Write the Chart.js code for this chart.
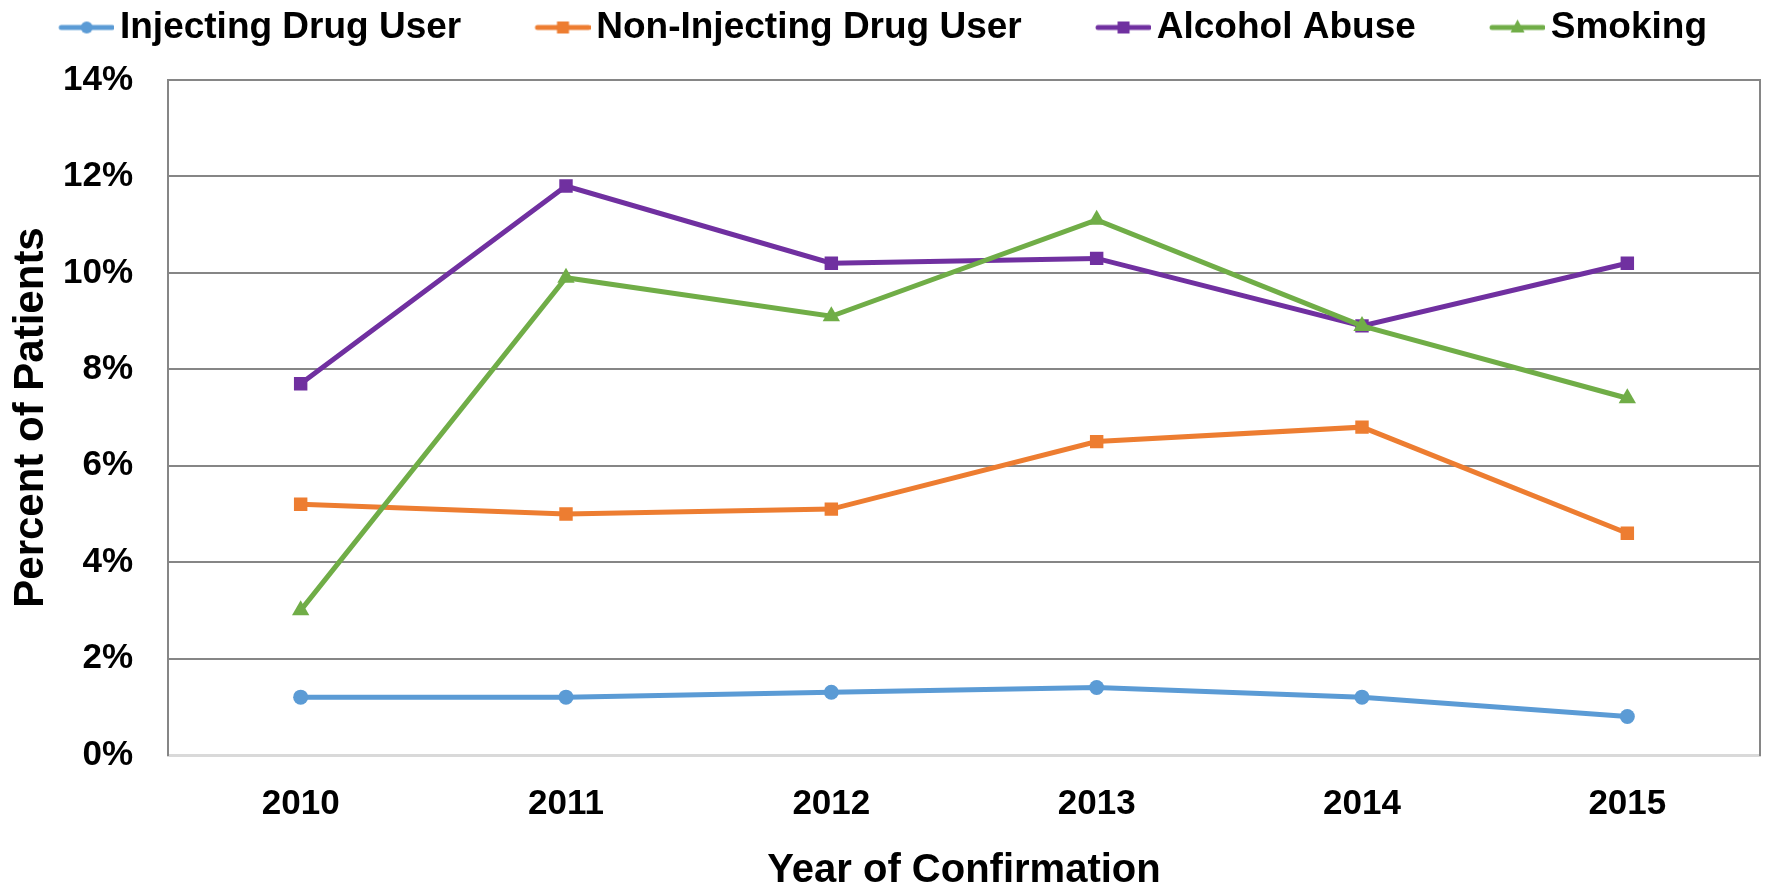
<!DOCTYPE html>
<html>
<head>
<meta charset="utf-8">
<script src="https://cdn.jsdelivr.net/npm/chart.js@4/dist/chart.umd.min.js"></script>
<style>
  html, body { margin: 0; padding: 0; background: #fff; }
  #wrap { width: 1770px; height: 884px; }
</style>
</head>
<body>
<div id="wrap"><canvas id="patientChart"></canvas></div>
<script>
// Values (percent of patients)
const years = ["2010", "2011", "2012", "2013", "2014", "2015"];
const injecting = [1.2, 1.2, 1.3, 1.4, 1.2, 0.8];
const nonInjecting = [5.2, 5.0, 5.1, 6.5, 6.8, 4.6];
const alcohol = [7.7, 11.8, 10.2, 10.3, 8.9, 10.2];
const smoking = [3.0, 9.9, 9.1, 11.1, 8.9, 7.4];

const seriesNames = ["Injecting Drug User", "Non-Injecting Drug User", "Alcohol Abuse", "Smoking"];
const seriesColors = ["#5B9BD5", "#ED7D31", "#7030A0", "#70AD47"];
const seriesStyles = ["circle", "rect", "rect", "triangle"];
const seriesRadius = [7.5, 9.5, 9.5, 10];

Chart.defaults.font.family = '"Liberation Sans", Arial, sans-serif';
Chart.defaults.font.weight = "bold";
Chart.defaults.color = "#000";

const LEGEND_PAD = 78;
const LEGEND_BOX = 38.5;
const SIDE = 25; // extra room on both sides so the legend stays on one row

// legend swatch: short line with the marker in the middle, right-aligned in the image
function legendSwatch(color, style) {
    const c = document.createElement("canvas");
    c.width = Math.round(LEGEND_BOX + 25);
    c.height = 20;
    const ctx = c.getContext("2d");
    const x0 = c.width - 55, x1 = c.width, cx = (x0 + x1) / 2, cy = 10;
    ctx.strokeStyle = color;
    ctx.lineWidth = 5;
    ctx.lineCap = "round";
    ctx.beginPath();
    ctx.moveTo(x0 + 2, cy);
    ctx.lineTo(x1 - 2, cy);
    ctx.stroke();
    ctx.fillStyle = color;
    ctx.beginPath();
    if (style === "circle") {
        ctx.arc(cx, cy, 6, 0, Math.PI * 2);
    } else if (style === "rect") {
        ctx.rect(cx - 6, cy - 6, 12, 12);
    } else {
        ctx.moveTo(cx, cy - 8);
        ctx.lineTo(cx + 7, cy + 5);
        ctx.lineTo(cx - 7, cy + 5);
        ctx.closePath();
    }
    ctx.fill();
    return c;
}

const allValues = [injecting, nonInjecting, alcohol, smoking];

new Chart("patientChart", {
    type: "line",
    data: {
        labels: years,
        datasets: allValues.map((vals, i) => ({
            label: seriesNames[i],
            data: vals,
            xAxisID: "x",
            yAxisID: "y",
            borderColor: seriesColors[i],
            backgroundColor: seriesColors[i],
            borderWidth: 5,
            pointStyle: seriesStyles[i],
            pointRadius: seriesRadius[i],
            pointBorderWidth: 0,
            tension: 0,
            fill: false,
            order: 4 - i
        }))
    },
    options: {
        responsive: true,
        maintainAspectRatio: false,
        animation: false,
        layout: { padding: { left: -SIDE, right: -SIDE, top: -69, bottom: 0 } },
        plugins: {
            tooltip: { enabled: false },
            legend: {
                position: "top",
                labels: {
                    font: { size: 37, weight: "bold" },
                    padding: LEGEND_PAD,
                    usePointStyle: true,
                    pointStyleWidth: LEGEND_BOX,
                    sort: (a, b) => a.datasetIndex - b.datasetIndex,
                    generateLabels: chart => chart.data.datasets.map((ds, i) => ({
                        text: ds.label,
                        datasetIndex: i,
                        fontColor: "#000",
                        pointStyle: legendSwatch(seriesColors[i], seriesStyles[i]),
                        lineWidth: 0,
                        strokeStyle: "transparent",
                        fillStyle: "transparent"
                    }))
                }
            }
        },
        scales: {
            x: {
                offset: true,
                grid: { display: false, drawTicks: false },
                border: { color: "#D9D9D9", width: 3 },
                ticks: { font: { size: 35, weight: "bold" }, padding: 28, maxRotation: 0 },
                title: {
                    display: true,
                    text: "Year of Confirmation",
                    font: { size: 40, weight: "bold", lineHeight: 0.65 },
                    padding: { top: 0, bottom: 0 }
                },
                afterFit: scale => { scale.height = 129; }
            },
            spacer: {
                type: "category",
                position: "top",
                labels: years,
                ticks: { display: false },
                grid: { display: false, drawTicks: false },
                border: { display: false },
                afterFit: scale => { scale.height = 24; }
            },
            y: {
                min: 0,
                max: 14,
                grid: { color: "#868686", lineWidth: 2, drawTicks: false },
                border: { color: "#868686", width: 2 },
                ticks: {
                    stepSize: 2,
                    padding: 35,
                    font: { size: 35, weight: "bold" },
                    callback: v => v + "%"
                },
                title: {
                    display: true,
                    text: "Percent of Patients",
                    font: { size: 42, weight: "bold" },
                    padding: { top: 6 + SIDE, bottom: 0 }
                },
                afterFit: scale => { scale.width = 168 + SIDE; }
            },
            y2: {
                position: "right",
                min: 0,
                max: 14,
                ticks: { display: false },
                grid: { display: false, drawTicks: false },
                border: { color: "#868686", width: 2 },
                afterFit: scale => { scale.width = 5 + SIDE; }
            }
        }
    }
});
</script>
</body>
</html>
